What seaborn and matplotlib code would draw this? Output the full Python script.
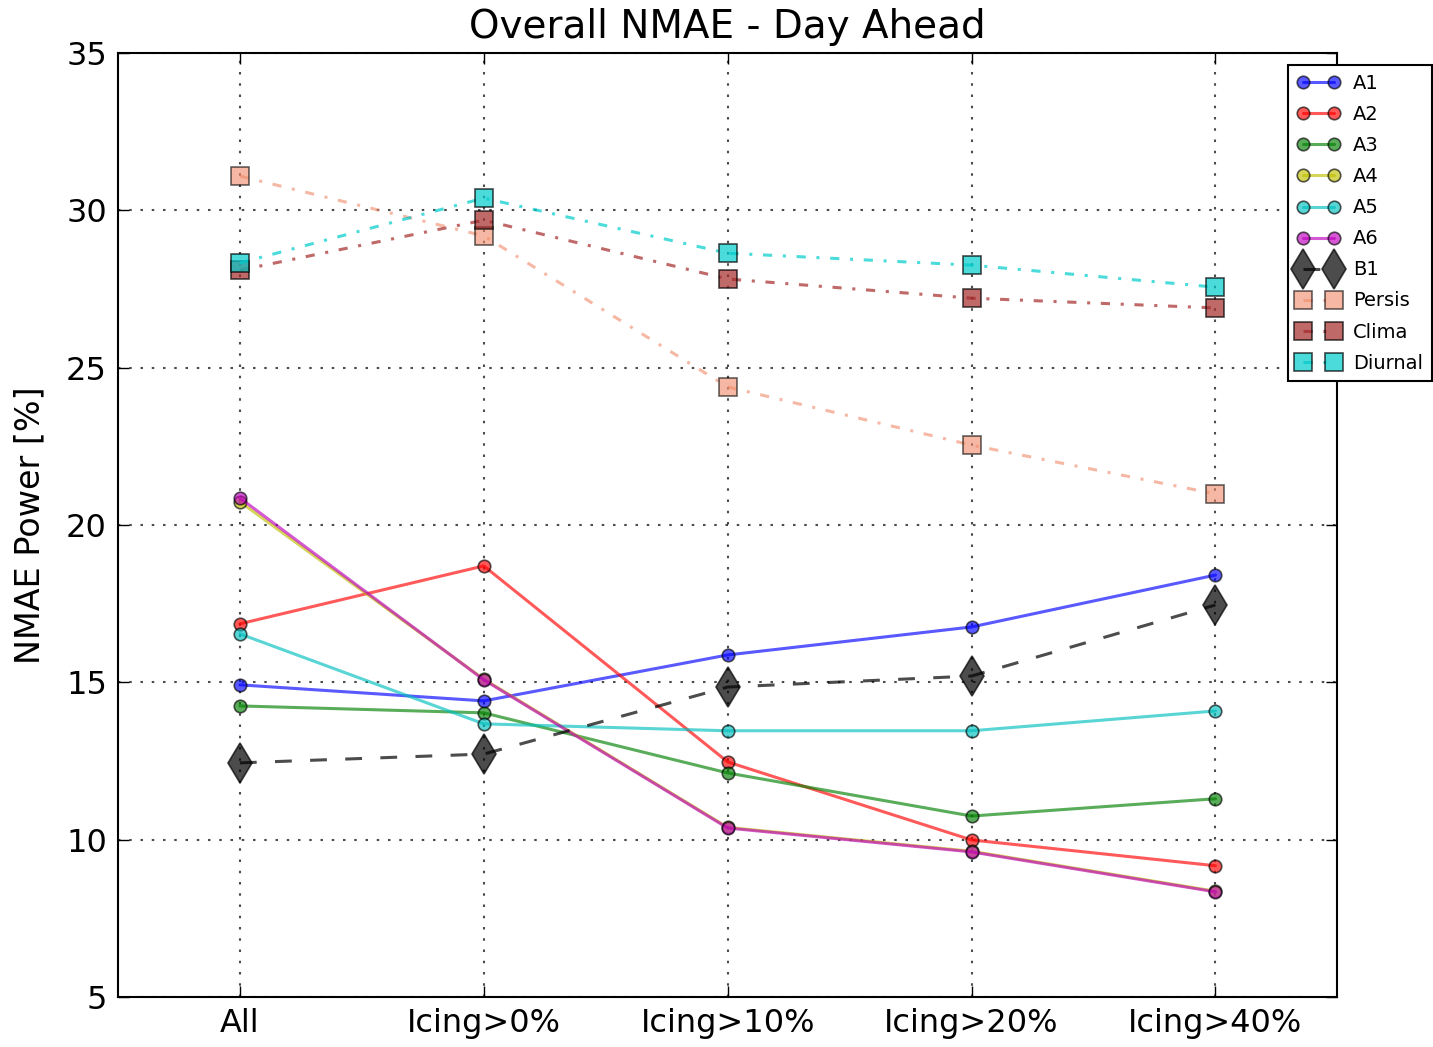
import matplotlib
matplotlib.use("Agg")
import matplotlib.pyplot as plt
import seaborn as sns
import pandas as pd
import numpy as np

categories = ["All", "Icing>0%", "Icing>10%", "Icing>20%", "Icing>40%"]
A1 = [14.92, 14.41, 15.87, 16.76, 18.41]
A2 = [16.86, 18.70, 12.47, 9.99, 9.17]
A3 = [14.25, 14.03, 12.12, 10.75, 11.30]
A4 = [20.74, 15.10, 10.39, 9.63, 8.36]
A5 = [16.54, 13.68, 13.46, 13.46, 14.09]
A6 = [20.86, 15.08, 10.37, 9.61, 8.34]
B1 = [12.44, 12.72, 14.85, 15.20, 17.46]
Persis = [31.09, 29.19, 24.39, 22.54, 20.99]
Clima = [28.10, 29.69, 27.82, 27.21, 26.90]
Diurnal = [28.33, 30.39, 28.64, 28.26, 27.56]

series = {"A1": A1, "A2": A2, "A3": A3, "A4": A4, "A5": A5, "A6": A6,
          "B1": B1, "Persis": Persis, "Clima": Clima, "Diurnal": Diurnal}

dashdot = (3, 3.5, 1, 3.5)
styles = {
    "A1": dict(color="#0000ff", marker="o", dashes=None, ms=9, lw=2.2, alpha=0.65),
    "A2": dict(color="#ff0000", marker="o", dashes=None, ms=9, lw=2.2, alpha=0.65),
    "A3": dict(color="#008000", marker="o", dashes=None, ms=9, lw=2.2, alpha=0.65),
    "A4": dict(color="#bfbf00", marker="o", dashes=None, ms=9, lw=2.2, alpha=0.65),
    "A5": dict(color="#00bfbf", marker="o", dashes=None, ms=9, lw=2.2, alpha=0.65),
    "A6": dict(color="#bf00bf", marker="o", dashes=None, ms=9, lw=2.2, alpha=0.65),
    "B1": dict(color="#000000", marker="d", dashes=(5.5, 6), ms=20, lw=2.2, alpha=0.7),
    "Persis": dict(color="#f08a68", marker="s", dashes=dashdot, ms=13, lw=2.2, alpha=0.6),
    "Clima": dict(color="#a52a2a", marker="s", dashes=dashdot, ms=13, lw=2.2, alpha=0.7),
    "Diurnal": dict(color="#00cccc", marker="s", dashes=dashdot, ms=13, lw=2.2, alpha=0.7),
}

sns.set_style("white")
plt.rcParams["font.family"] = ["DejaVu Sans"]
plt.rcParams["text.color"] = "black"
plt.rcParams["axes.labelcolor"] = "black"
plt.rcParams["xtick.color"] = "black"
plt.rcParams["ytick.color"] = "black"

fig = plt.figure(figsize=(14.33, 10.47), dpi=100)
ax = fig.add_axes([0.0823, 0.0478, 0.8510, 0.9015])

xpos = np.arange(len(categories))
for name, vals in series.items():
    st = styles[name]
    df = pd.DataFrame({"x": xpos, "y": vals})
    sns.lineplot(data=df, x="x", y="y", ax=ax, color=st["color"], marker=st["marker"],
                 markersize=st["ms"], linewidth=st["lw"], alpha=st["alpha"],
                 markeredgecolor="black", markeredgewidth=1.2, label=name)
    line = ax.get_lines()[-1]
    if st["dashes"] is not None:
        line.set_dashes(st["dashes"])

ax.set_xlim(-0.5, 4.5)
ax.set_ylim(5, 35)
ax.set_xticks(xpos)
ax.set_xticklabels(categories, fontsize=23)
ax.set_yticks(np.arange(5, 36, 5))
ax.tick_params(axis="y", labelsize=23)
ax.tick_params(direction="in", length=8, width=1, top=True, right=True, bottom=True, left=True, pad=8)
ax.set_xlabel("")
ax.set_ylabel("NMAE Power [%]", fontsize=24, labelpad=14)
ax.set_title("Overall NMAE - Day Ahead", fontsize=28, pad=11)
ax.grid(True, color="black", linewidth=1.5, alpha=0.7, linestyle=(0, (1.2, 4.2)))
for sp in ax.spines.values():
    sp.set_color("black")
    sp.set_linewidth(1.5)

leg = ax.legend(loc="upper left", bbox_to_anchor=(0.9595, 0.987), fontsize=14, numpoints=2,
                frameon=True, fancybox=False, borderaxespad=0, handlelength=2.2,
                labelspacing=0.62, borderpad=0.45, handletextpad=0.7)
leg.get_frame().set_edgecolor("black")
leg.get_frame().set_linewidth(1.5)
leg.get_frame().set_alpha(1)

fig.savefig("out.png", dpi=100)
